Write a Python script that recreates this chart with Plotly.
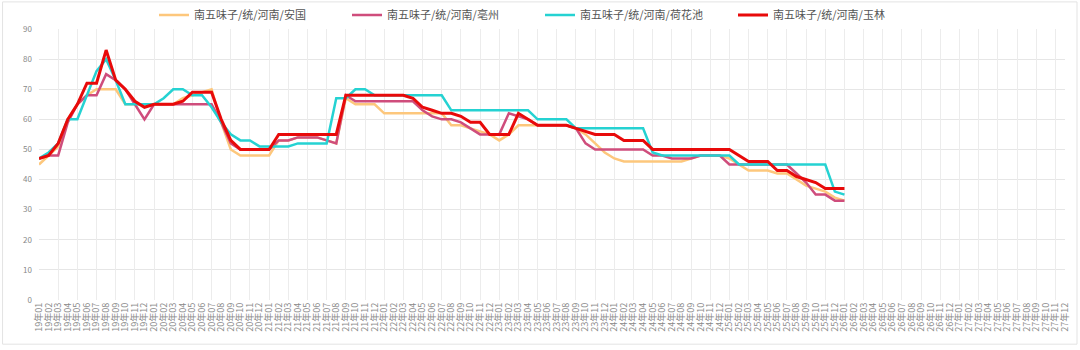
import plotly.graph_objects as go

months = [f"{y}年{m:02d}" for y in range(19, 28) for m in range(1, 13)]

names = ["南五味子/统/河南/安国", "南五味子/统/河南/亳州", "南五味子/统/河南/荷花池", "南五味子/统/河南/玉林"]

anguo = [45, 48, 51, 60, 65, 68, 70, 70, 70, 65, 65, 65,
         65, 65, 65, 67, 68, 69, 70, 59, 50, 48, 48, 48,
         48, 53, 53, 54, 54, 54, 53, 52, 67, 65, 65, 65,
         62, 62, 62, 62, 62, 62, 62, 58, 58, 57, 56, 55,
         53, 55, 58, 58, 58, 58, 58, 58, 57, 55, 52, 49,
         47, 46, 46, 46, 46, 46, 46, 46, 47, 48, 48, 48,
         47, 45, 43, 43, 43, 42, 42, 40, 38, 37, 36, 34, 33]

bozhou = [47, 48, 48, 59, 65, 68, 68, 75, 73, 70, 65, 60,
          65, 65, 65, 65, 65, 65, 65, 59, 52, 50, 50, 50,
          50, 53, 53, 54, 54, 54, 53, 52, 68, 66, 66, 66,
          66, 66, 66, 66, 63, 61, 60, 60, 59, 57, 55, 55,
          55, 62, 61, 60, 58, 58, 58, 58, 57, 52, 50, 50,
          50, 50, 50, 50, 48, 48, 47, 47, 47, 48, 48, 48,
          45, 45, 45, 45, 45, 45, 45, 42, 39, 35, 35, 33, 33]

hehuachi = [47, 49, 52, 60, 60, 68, 76, 80, 73, 65, 65, 65,
            65, 67, 70, 70, 68, 68, 64, 59, 55, 53, 53, 51,
            51, 51, 51, 52, 52, 52, 52, 67, 67, 70, 70, 68,
            68, 68, 68, 68, 68, 68, 68, 63, 63, 63, 63, 63,
            63, 63, 63, 63, 60, 60, 60, 60, 57, 57, 57, 57,
            57, 57, 57, 57, 49, 48, 48, 48, 48, 48, 48, 48,
            48, 45, 45, 45, 45, 45, 45, 45, 45, 45, 45, 36, 35]

yulin = [47, 48, 52, 60, 65, 72, 72, 83, 73, 70, 66, 64,
         65, 65, 65, 66, 69, 69, 69, 60, 53, 50, 50, 50,
         50, 55, 55, 55, 55, 55, 55, 55, 68, 68, 68, 68,
         68, 68, 68, 67, 64, 63, 62, 62, 61, 59, 59, 55,
         55, 55, 62, 60, 58, 58, 58, 58, 57, 56, 55, 55,
         55, 53, 53, 53, 50, 50, 50, 50, 50, 50, 50, 50,
         50, 48, 46, 46, 46, 43, 43, 41, 40, 39, 37, 37, 37]

y_ticks = list(range(0, 100, 10))

series = [anguo, bozhou, hehuachi, yulin]
colors = ["#fdc77c", "#cf4d7c", "#25d2d2", "#e80a0a"]
widths = [2.5, 2.5, 2.5, 3]

fig = go.Figure()
for name, vals, c, w in zip(names, series, colors, widths):
    fig.add_trace(go.Scatter(
        x=months[:len(vals)], y=vals, name=name, mode="lines",
        line=dict(color=c, width=w), xaxis="x", yaxis="y"))

fig.update_layout(
    width=1080, height=350,
    margin=dict(l=39, r=15, t=29, b=50, autoexpand=False),
    paper_bgcolor="white", plot_bgcolor="white",
    font=dict(family="Noto Sans CJK SC, sans-serif", color="#666"),
    showlegend=True,
    legend=dict(orientation="h", x=0.5, xref="container", xanchor="center",
                y=0.957, yref="container", yanchor="middle",
                font=dict(size=11, color="#555"), entrywidth=148, entrywidthmode="pixels",
                itemwidth=30, bgcolor="rgba(0,0,0,0)"),
    xaxis=dict(type="category", categoryorder="array", categoryarray=months,
               range=[0, len(months) - 1], tickmode="array", tickvals=months,
               ticktext=months, tickangle=-90, tickfont=dict(size=9, color="#888"),
               showgrid=False, showline=False, zeroline=False, ticks="", ticklen=0),
    xaxis2=dict(type="category", categoryorder="array", categoryarray=months,
                range=[0, len(months) - 1], overlaying="x", tickmode="array",
                tickvals=months[::2], showticklabels=False, showgrid=True,
                gridcolor="#ececec", gridwidth=1, zeroline=False, showline=False,
                side="bottom"),
    yaxis=dict(range=[0, 90], tickmode="array", tickvals=y_ticks,
               tickfont=dict(size=8, color="#888"), showgrid=True, gridcolor="#e6e6e6",
               zeroline=False, showline=False, ticks="", ticklabelstandoff=6),
    shapes=[dict(type="rect", xref="paper", yref="paper",
                 x0=-0.0355, x1=1.0117, y0=-0.163, y1=1.1, line=dict(color="#e3e3e3", width=1),
                 fillcolor="rgba(0,0,0,0)", layer="below")],
)
# grid-only helper axis needs a (blank) trace to be drawn
fig.add_trace(go.Scatter(x=months, y=[None] * len(months), xaxis="x2", yaxis="y",
                         showlegend=False, hoverinfo="skip", mode="lines"))

fig.write_html("out.html")
